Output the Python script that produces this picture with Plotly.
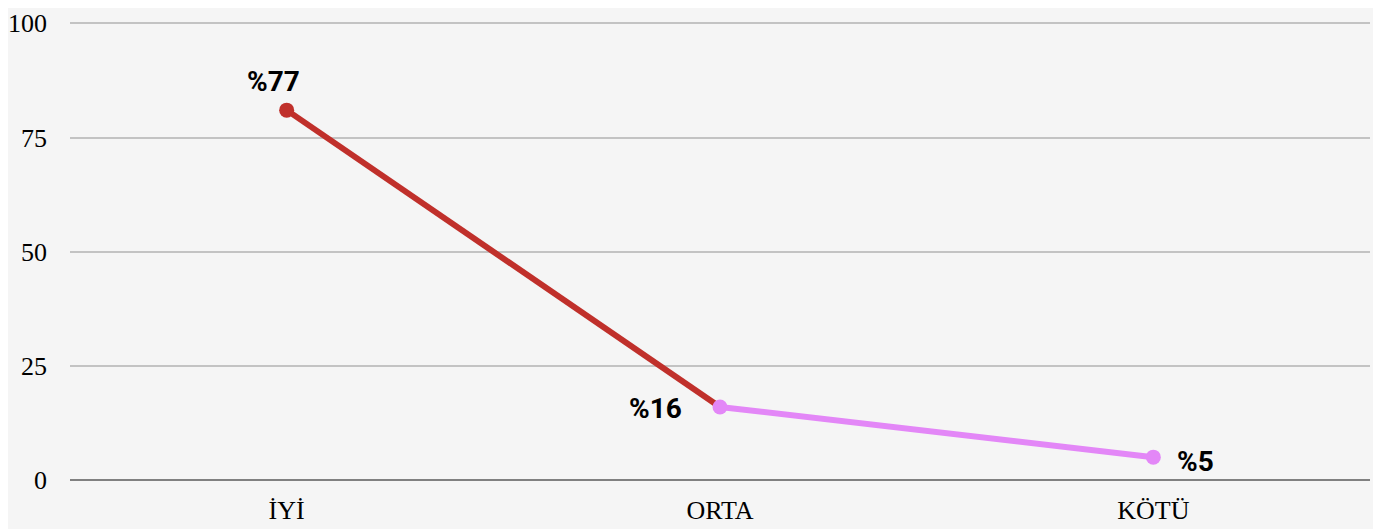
import plotly.graph_objects as go

categories = ["İYİ", "ORTA", "KÖTÜ"]
values = [81, 16, 5]
labels = ["%77", "%16", "%5"]
point_colors = ["#c0302b", "#e387f7", "#e387f7"]
segment_colors = ["#c0302b", "#e387f7"]

fig = go.Figure()

# each segment gets its own color
for i, col in enumerate(segment_colors):
    fig.add_trace(go.Scatter(
        x=categories[i:i + 2], y=values[i:i + 2], mode="lines",
        line=dict(color=col, width=6), hoverinfo="skip", showlegend=False
    ))

fig.add_trace(go.Scatter(
    x=categories, y=values, mode="markers",
    marker=dict(color=point_colors, size=15), showlegend=False
))

# label offsets (px) around each point
shifts = [(-13, 29), (-65, -2), (42, -4)]
for cat, val, lab, (dx, dy) in zip(categories, values, labels, shifts):
    fig.add_annotation(
        x=cat, y=val, text="<b>" + lab + "</b>",
        showarrow=False, xshift=dx, yshift=dy,
        font=dict(family="Roboto, DejaVu Sans, sans-serif", size=28, color="#000000")
    )

# the page body adds an 8px offset, so margins are trimmed to compensate
fig.update_layout(
    width=1381, height=529,
    margin=dict(l=62, r=19, t=14, b=57),
    paper_bgcolor="#f5f5f5", plot_bgcolor="#f5f5f5",
    font=dict(family="Liberation Serif, Times New Roman, serif", size=26, color="#000000"),
    xaxis=dict(range=[-0.5, 2.5], showgrid=False, showline=False, ticks="",
               zeroline=False, ticklabelstandoff=12, automargin=False),
    yaxis=dict(range=[0, 100.3], tickvals=[0, 25, 50, 75, 100], showgrid=True,
               gridcolor="#c3c3c3", gridwidth=1.5, zeroline=True, zerolinecolor="#808080",
               zerolinewidth=2, showline=False, ticks="", ticklabelstandoff=22,
               ticklabeloverflow="allow", automargin=False),
)

fig.write_html("out.html")
